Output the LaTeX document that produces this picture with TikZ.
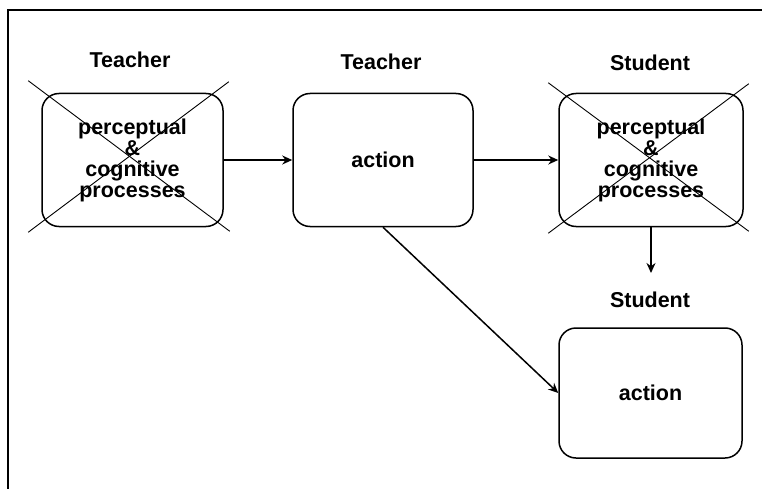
\documentclass[tikz,border=0pt]{standalone}
\usepackage{fontspec}
\setmainfont{Liberation Sans}
\usetikzlibrary{arrows.meta,calc}

\begin{document}
\begin{tikzpicture}[
  x = 1pt, y = -1pt,
  proc/.style = {
    shape = rectangle,
    draw,
    rounded corners = 17pt,
    line width = 1.5pt,
    align = center,
    inner sep = 0pt,
    font = \bfseries\fontsize{21.5}{21}\selectfont
  },
  who/.style = {
    inner sep = 0pt,
    font = \bfseries\fontsize{21.5}{21}\selectfont
  },
  cross/.style = {
    line width = 0.9pt
  },
  flow/.style = {
    line width = 1.5pt,
    -{Stealth[length = 10pt, width = 9pt]}
  }
]
  \useasboundingbox (0, 0) rectangle (762, 489);

  % frame, only top and left edges
  \draw[line width = 2pt] (8, 489) -- (8, 10) -- (762, 10);

  % teacher
  \node[who] (tlbl1) at (130, 60) {Teacher};
  \node[proc, minimum width = 181pt, minimum height = 133pt] (tpc) at (132.5, 160)
    {perceptual\\\&\\cognitive\\processes};
  \draw[cross] ($(tpc.north west) + (-13, -12)$) -- ($(tpc.south east) + (6, 4)$);
  \draw[cross] ($(tpc.north east) + (5, -11)$) -- ($(tpc.south west) + (-13, 5)$);

  \node[who] (tlbl2) at (381, 62) {Teacher};
  \node[proc, minimum width = 180pt, minimum height = 133pt] (tact) at (383, 160) {action};

  % student
  \node[who] (slbl1) at (650, 63) {Student};
  \node[proc, minimum width = 184pt, minimum height = 133pt] (spc) at (651, 160)
    {perceptual\\\&\\cognitive\\processes};
  \draw[cross] ($(spc.north west) + (-10, -10)$) -- ($(spc.south east) + (5, 4)$);
  \draw[cross] ($(spc.north east) + (5, -9)$) -- ($(spc.south west) + (-10, 6)$);

  \node[who] (slbl2) at (650, 300) {Student};
  \node[proc, minimum width = 183pt, minimum height = 130pt] (sact) at (650.5, 393) {action};

  \coordinate (sdown) at (651, 273);

  \draw[flow] (tpc.east) -- (tact.west);
  \draw[flow] (tact.east) -- (spc.west);
  \draw[flow] (spc.south) -- (sdown);
  \draw[flow] (tact.south) -- (sact.west);
\end{tikzpicture}
\end{document}
